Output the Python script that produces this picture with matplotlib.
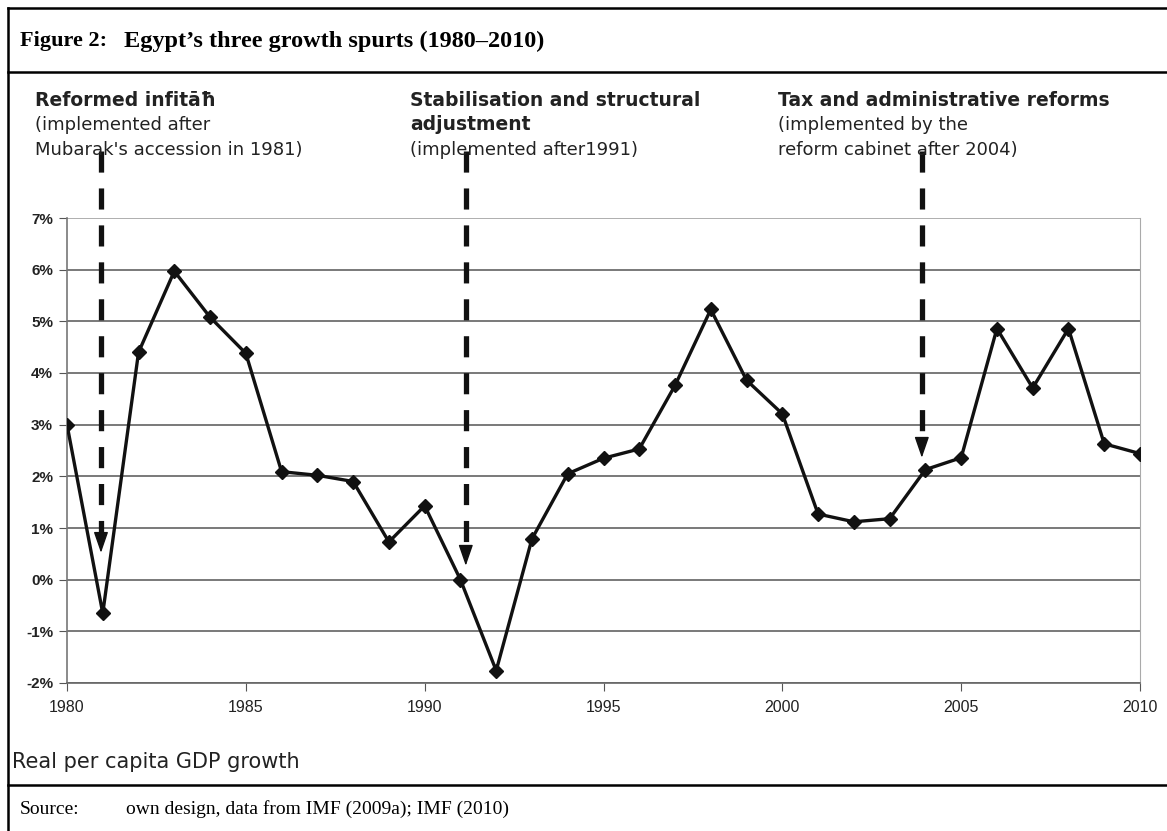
import matplotlib.pyplot as plt
from matplotlib.lines import Line2D
import numpy as np

plt.rcParams['font.family'] = ['Liberation Sans', 'DejaVu Sans']

# data: real per capita GDP growth (%)
years = list(range(1980, 2011))
growth = [3.00, -0.65, 4.40, 5.97, 5.08, 4.38, 2.09, 2.02, 1.90, 0.73,
          1.43, 0.00, -1.76, 0.79, 2.05, 2.35, 2.53, 3.76, 5.23, 3.86,
          3.21, 1.27, 1.12, 1.18, 2.13, 2.36, 4.86, 3.71, 4.86, 2.63, 2.44]

# reform arrows: x position (year), tip value (%)
arrow_x = [1980.95, 1991.15, 2003.9]
arrow_tip = [0.52, 0.27, 2.36]
arrow_top = 8.3

heads = ['Reformed infitāħ', 'Stabilisation and structural\nadjustment',
         'Tax and administrative reforms']
notes = ['(implemented after\nMubarak\'s accession in 1981)',
         '(implemented after1991)',
         '(implemented by the\nreform cabinet after 2004)']

yticks = list(range(-2, 8))
xticks = list(range(1980, 2011, 5))

W, H = 1167, 831
fig = plt.figure(figsize=(W / 100, H / 100), dpi=100)
fx = lambda px: px / W
fy = lambda py: 1 - py / H

# frame of the figure box
for (x0, y0, x1, y1) in [(8, 8, W, 8), (8, 72, W, 72), (8, 785, W, 785), (8, 8, 8, H)]:
    fig.add_artist(Line2D([fx(x0), fx(x1)], [fy(y0), fy(y1)], color='black', lw=1.8))

fig.text(fx(20), fy(41), 'Figure 2:', family='Liberation Serif', weight='bold',
         fontsize=16, va='center')
fig.text(fx(124), fy(41), 'Egypt\u2019s three growth spurts (1980\u20132010)',
         family='Liberation Serif', weight='bold', fontsize=17.5, va='center')
fig.text(fx(20), fy(809), 'Source:', family='Liberation Serif', fontsize=14, va='center')
fig.text(fx(126), fy(809), 'own design, data from IMF (2009a); IMF (2010)',
         family='Liberation Serif', fontsize=14, va='center')

# annotation headings and notes
head_x = [35, 410, 778]
for hx, hd, nt in zip(head_x, heads, notes):
    y = 100
    for ln in hd.split('\n'):
        fig.text(fx(hx), fy(y), ln, family='DejaVu Sans', weight='bold', fontsize=13.5,
                 color='#222222', va='center')
        y += 25
    for ln in nt.split('\n'):
        fig.text(fx(hx), fy(y), ln, family='DejaVu Sans', fontsize=13,
                 color='#222222', va='center')
        y += 25

ax = fig.add_axes([fx(67), fy(683), fx(1140) - fx(67), fy(218) - fy(683)])
ax.set_xlim(1980, 2010)
ax.set_ylim(-2, 7)
for v in yticks:
    ax.axhline(v, color='#6e6e6e' if v < 7 else '#a8a8a8', lw=1.3, zorder=1)
ax.plot(years, growth, color='#111111', lw=2.4, marker='D', markersize=7, zorder=3)

# dashed reform arrows with solid heads
head_len = 0.36
for x, tip in zip(arrow_x, arrow_tip):
    ax.plot([x, x], [arrow_top, tip + head_len], color='#111111', lw=3.8,
            linestyle=(0, (4, 3)), dash_capstyle='butt', clip_on=False, zorder=4)
    ax.annotate('', xy=(x, tip), xytext=(x, tip + head_len), annotation_clip=False,
                arrowprops=dict(arrowstyle='-|>,head_length=1.3,head_width=0.45',
                                color='#111111', lw=1, shrinkA=0, shrinkB=0), zorder=4)

ax.set_yticks(yticks)
ax.set_yticklabels([f'{v}%' for v in yticks])
ax.set_xticks(xticks)
ax.set_xticklabels([str(v) for v in xticks])
ax.tick_params(axis='y', length=6, color='#555555', labelsize=11, labelcolor='#222222', pad=4)
ax.tick_params(axis='x', length=6, color='#555555', labelsize=11.5, labelcolor='#222222', pad=6)
for lab in ax.get_yticklabels():
    lab.set_fontweight('bold')
ax.spines['top'].set_visible(False)
ax.spines['left'].set_color('#777777')
ax.spines['right'].set_color('#aaaaaa')
ax.spines['bottom'].set_color('#666666')
ax.spines['left'].set_linewidth(1.2)
ax.spines['bottom'].set_linewidth(1.2)

fig.text(fx(12), fy(762), 'Real per capita GDP growth', family='DejaVu Sans',
         fontsize=15, color='#222222', va='center')

fig.savefig('out.png', dpi=100)
